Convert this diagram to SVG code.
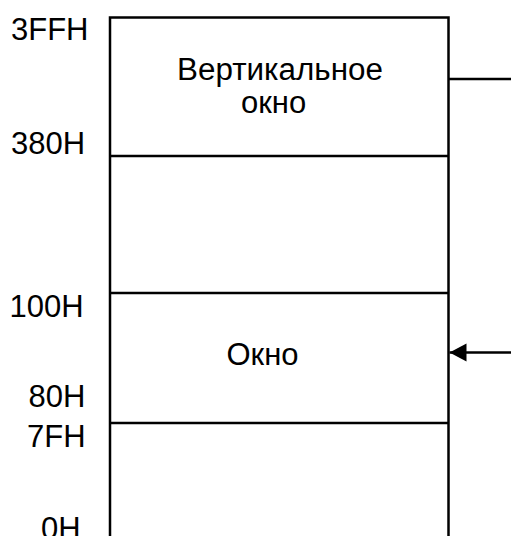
<svg xmlns="http://www.w3.org/2000/svg" width="511" height="536" viewBox="0 0 511 536">
  <style>
    .box { fill: none; stroke: #000; stroke-width: 2.5; }
    .div { stroke: #000; stroke-width: 2.5; }
    .conn { stroke: #000; stroke-width: 2.5; fill: none; }
    text { font-family: "Liberation Sans", Arial, sans-serif; font-size: 31px; fill: #000; }
  </style>
  <defs>
    <marker id="arrowHead" markerUnits="userSpaceOnUse" markerWidth="18" markerHeight="20" refX="17" refY="9" orient="auto">
      <path d="M17,9 L0,0 L0,18 Z" fill="#000"/>
    </marker>
  </defs>
  <rect width="511" height="536" fill="#fff"/>

  <!-- address labels -->
  <g id="addresses">
    <text x="11" y="40">3FFH</text>
    <text x="11" y="154">380H</text>
    <text x="9.5" y="317">100H</text>
    <text x="28.5" y="407">80H</text>
    <text x="27" y="447">7FH</text>
    <text x="41" y="539">0H</text>
  </g>

  <!-- memory map frame -->
  <g id="memory-map">
    <rect class="box" x="110" y="17.5" width="338.5" height="540"/>
  </g>

  <g id="vertical-window">
    <text x="177" y="80" textLength="206" lengthAdjust="spacingAndGlyphs">Вертикальное</text>
    <text x="241" y="113">окно</text>
    <line class="div" x1="110" y1="156" x2="448.5" y2="156"/>
  </g>

  <g id="middle-region">
    <line class="div" x1="110" y1="293" x2="448.5" y2="293"/>
  </g>

  <g id="window">
    <text x="226.5" y="365">Окно</text>
    <line class="div" x1="110" y1="423" x2="448.5" y2="423"/>
  </g>

  <g id="low-region"></g>

  <!-- connectors -->
  <g id="connectors">
    <line class="conn" x1="448.5" y1="79" x2="511" y2="79"/>
    <line class="conn" x1="511" y1="352.5" x2="449.5" y2="352.5" marker-end="url(#arrowHead)"/>
  </g>
</svg>
